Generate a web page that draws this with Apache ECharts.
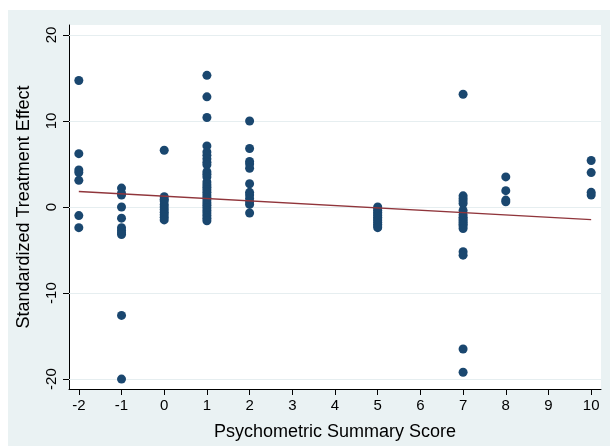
<!DOCTYPE html>
<html>
<head>
<meta charset="utf-8">
<script src="https://cdn.jsdelivr.net/npm/echarts@6/dist/echarts.min.js"></script>
<style>
html,body{margin:0;padding:0;background:#fff;}
#chart{width:610px;height:446px;}
</style>
</head>
<body>
<div id="chart"></div>
<script>
// Psychometric summary scores (x) and standardized treatment effects (y) per score
const scoreNeg2 = [14.7, 6.2, 4.3, 4.0, 3.1, -1.0, -2.4];
const scoreNeg1 = [2.2, 1.6, 1.4, 0.0, -1.3, -2.4, -2.7, -3.0, -3.2, -12.6, -20.0];
const score0 = [6.6, 1.2, 0.9, 0.7, 0.3, 0.0, -0.3, -0.6, -0.9, -1.2, -1.5];
const score1 = [15.3, 12.8, 10.4, 7.1, 6.4, 6.0, 5.6, 5.2, 4.9, 4.1, 3.8, 3.5, 2.9, 2.6, 2.3, 2.0, 1.7, 1.4, 1.1, 0.8, 0.5, 0.2, -0.1, -0.4, -0.7, -1.0, -1.3, -1.6];
const score2 = [10.0, 6.8, 5.3, 5.0, 4.5, 2.7, 1.7, 1.4, 1.0, 0.6, 0.3, -0.7];
const score5 = [0.0, -0.2, -0.4, -0.6, -0.8, -1.0, -1.2, -1.4, -1.6, -1.8, -2.0, -2.2, -2.4];
const score7 = [13.1, 1.3, 1.0, 0.7, 0.4, -0.4, -0.9, -1.2, -1.4, -1.6, -1.8, -2.0, -2.2, -2.5, -5.2, -5.6, -16.5, -19.2];
const score8 = [3.5, 1.9, 0.8, 0.6];
const score10 = [5.4, 4.0, 1.7, 1.4];

const groups = [[-2, scoreNeg2], [-1, scoreNeg1], [0, score0], [1, score1], [2, score2], [5, score5], [7, score7], [8, score8], [10, score10]];

// fitted regression line endpoints
const fitX = [-2, 10];
const fitY = [1.8, -1.47];

const xTicks = [-2, -1, 0, 1, 2, 3, 4, 5, 6, 7, 8, 9, 10];
const yTicks = [-20, -10, 0, 10, 20];

const points = [];
groups.forEach(g => g[1].forEach(v => points.push([g[0], v])));
const fitData = fitX.map((x, i) => [x, fitY[i]]);

const chart = echarts.init(document.getElementById('chart'), null, {renderer: 'canvas'});
const font = 'Liberation Sans, Arial, Helvetica, sans-serif';
chart.setOption({
  backgroundColor: '#ffffff',
  animation: false,
  graphic: [{
    type: 'rect', z: -10, silent: true,
    shape: {x: 8, y: 10, width: 602, height: 436},
    style: {fill: '#eaf2f3'}
  }],
  grid: {
    left: 69, right: 9, top: 25, bottom: 55,
    show: true, backgroundColor: '#ffffff', borderWidth: 0
  },
  xAxis: {
    type: 'value', min: -2.23, max: 10.23,
    name: 'Psychometric Summary Score', nameLocation: 'middle', nameGap: 34,
    nameTextStyle: {fontFamily: font, fontSize: 18, color: '#000'},
    axisLine: {show: true, onZero: false, lineStyle: {color: '#000', width: 1}},
    axisTick: {show: true, length: 6, customValues: xTicks, lineStyle: {color: '#000'}},
    axisLabel: {customValues: xTicks, margin: 9, fontFamily: font, fontSize: 15, color: '#000'},
    splitLine: {show: false}
  },
  yAxis: {
    type: 'value', min: -21.15, max: 21.15,
    name: 'Standardized Treatment Effect', nameLocation: 'middle', nameRotate: 90, nameGap: 36,
    nameTextStyle: {fontFamily: font, fontSize: 18, color: '#000'},
    axisLine: {show: true, onZero: false, lineStyle: {color: '#000', width: 1}},
    axisTick: {show: true, length: 6, customValues: yTicks, lineStyle: {color: '#000'}},
    axisLabel: {customValues: yTicks, rotate: 90, margin: 10, fontFamily: font, fontSize: 15, color: '#000'},
    splitLine: {show: false}
  },
  series: [
    {
      type: 'scatter', data: points, symbolSize: 9,
      itemStyle: {color: '#1a476f', opacity: 1},
      z: 3,
      markLine: {
        silent: true, symbol: 'none', label: {show: false},
        lineStyle: {color: '#e6eef0', width: 1, type: 'solid'},
        data: yTicks.map(v => ({yAxis: v})),
        z: 1
      }
    },
    {
      type: 'line', data: fitData, showSymbol: false, symbol: 'none',
      lineStyle: {color: '#90353b', width: 1.3}, z: 4
    }
  ]
});
</script>
</body>
</html>
